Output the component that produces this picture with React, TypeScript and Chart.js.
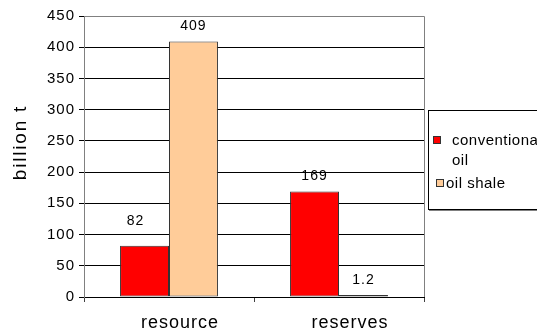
import { useEffect, useRef } from 'react';
import { Chart, registerables } from 'chart.js';

Chart.register(...registerables);

const categories = ['resource', 'reserves'];
const conventionalOil = [82, 169];
const oilShale = [409, 1.2];
const seriesNames = ['conventional oil', 'oil shale'];
const seriesColors = ['#FF0000', '#FFCC99'];
const yMax = 450;
const yStep = 50;
const axisTitle = 'billion t';

const FONT = '"Liberation Sans", Arial, Helvetica, sans-serif';

// Values written above each bar, plus a couple of small overlay pieces
// (plot frame, rotated axis title and a boxed legend that runs off the edge).
const decorPlugin = {
  id: 'decor',
  beforeDraw(chart: any) {
    chart.ctx.letterSpacing = '1px';
  },
  afterDatasetsDraw(chart: any, _args: any, opts: any) {
    const ctx = chart.ctx;
    ctx.save();
    ctx.letterSpacing = '1px';
    ctx.font = `14px ${FONT}`;
    ctx.fillStyle = '#000';
    ctx.textAlign = 'center';
    ctx.textBaseline = 'middle';
    chart.data.datasets.forEach((ds: any, di: number) => {
      const meta = chart.getDatasetMeta(di);
      meta.data.forEach((bar: any, i: number) => {
        const nudge = (opts.nudge && opts.nudge[`${di}-${i}`]) || [0, 0];
        ctx.fillText(String(ds.data[i]), bar.x + nudge[0], bar.y - opts.gap + nudge[1]);
      });
    });
    ctx.restore();
  },
  afterDraw(chart: any, _args: any, opts: any) {
    const ctx = chart.ctx;
    const { left, right, top } = chart.chartArea;
    const px = (v: number) => Math.round(v - 0.5) + 0.5;

    // plot frame: top and right edges
    ctx.save();
    ctx.strokeStyle = '#808080';
    ctx.lineWidth = 1;
    ctx.beginPath();
    ctx.moveTo(px(left), px(top));
    ctx.lineTo(px(right), px(top));
    ctx.lineTo(px(right), chart.chartArea.bottom);
    ctx.stroke();
    ctx.restore();

    // rotated y axis title
    ctx.save();
    ctx.letterSpacing = '1.8px';
    ctx.font = `19px ${FONT}`;
    ctx.fillStyle = '#000';
    ctx.textAlign = 'center';
    ctx.textBaseline = 'alphabetic';
    ctx.translate(26, (top + chart.chartArea.bottom) / 2 - 14);
    ctx.rotate(-Math.PI / 2);
    ctx.fillText(axisTitle, 0, 0);
    ctx.restore();

    // legend box
    const lg = opts.legend;
    ctx.save();
    ctx.fillStyle = '#fff';
    ctx.fillRect(lg.x, lg.y, lg.w, lg.h);
    ctx.strokeStyle = '#000';
    ctx.lineWidth = 1;
    ctx.strokeRect(lg.x + 0.5, lg.y + 0.5, lg.w, lg.h);
    ctx.strokeStyle = '#808080';
    ctx.beginPath();
    ctx.moveTo(lg.x + 1, lg.y + lg.h + 1.5);
    ctx.lineTo(lg.x + lg.w + 2, lg.y + lg.h + 1.5);
    ctx.stroke();

    ctx.font = `15px ${FONT}`;
    ctx.letterSpacing = '0.5px';
    ctx.textAlign = 'left';
    ctx.textBaseline = 'alphabetic';
    chart.data.datasets.forEach((ds: any, di: number) => {
      const item = lg.items[di];
      ctx.fillStyle = ds.backgroundColor;
      ctx.fillRect(item.markerX, item.markerY, 8, 8);
      ctx.strokeStyle = '#333';
      ctx.strokeRect(item.markerX + 0.5, item.markerY + 0.5, 7, 7);
      // simple word wrap inside the box width
      const words = String(ds.label).split(' ');
      const lines: string[] = [];
      let cur = '';
      words.forEach((w) => {
        const test = cur ? `${cur} ${w}` : w;
        if (cur && ctx.measureText(test).width > lg.textWidth) {
          lines.push(cur);
          cur = w;
        } else {
          cur = test;
        }
      });
      if (cur) lines.push(cur);
      ctx.fillStyle = '#000';
      lines.forEach((line, li) => {
        ctx.fillText(line, item.textX, item.baseline + li * lg.lineHeight);
      });
    });
    ctx.restore();
  },
};

export default function App() {
  const canvasRef = useRef<HTMLCanvasElement | null>(null);

  useEffect(() => {
    if (!canvasRef.current) return;
    const chart = new Chart(canvasRef.current, {
      type: 'bar',
      data: {
        labels: categories,
        datasets: [
          {
            label: seriesNames[0],
            data: conventionalOil,
            backgroundColor: seriesColors[0],
            borderColor: '#333333',
            borderWidth: 1,
            borderSkipped: false,
            minBarLength: 2,
          },
          {
            label: seriesNames[1],
            data: oilShale,
            backgroundColor: seriesColors[1],
            borderColor: '#333333',
            borderWidth: 1,
            borderSkipped: false,
            minBarLength: 2,
          },
        ],
      },
      options: {
        animation: false,
        responsive: false,
        maintainAspectRatio: false,
        devicePixelRatio: 1,
        layout: { padding: { top: 16, right: 113, left: 0, bottom: 0 } },
        datasets: {
          bar: { barPercentage: 1, categoryPercentage: 0.576 },
        },
        scales: {
          x: {
            afterFit: (scale: any) => {
              scale.height = 34;
            },
            grid: {
              display: true,
              drawOnChartArea: false,
              drawTicks: true,
              tickLength: 5,
              offset: true,
              tickColor: '#404040',
            },
            border: { display: true, color: '#000', width: 1 },
            ticks: {
              color: '#000',
              font: { family: FONT, size: 18 },
              padding: 10,
              labelOffset: 11,
              maxRotation: 0,
            },
          },
          y: {
            min: 0,
            max: yMax,
            afterFit: (scale: any) => {
              scale.width = 84;
            },
            grid: {
              color: (c: any) => (c.tick && c.tick.value === yMax ? '#808080' : '#000'),
              tickColor: '#000',
              tickLength: 5,
              drawTicks: true,
            },
            border: { display: true, color: '#808080', width: 1 },
            ticks: {
              stepSize: yStep,
              color: '#000',
              font: { family: FONT, size: 15 },
              padding: 4,
            },
          },
        },
        plugins: {
          legend: { display: false },
          tooltip: { enabled: false },
          decor: {
            gap: 15,
            nudge: { '0-0': [-9, -10] },
            legend: {
              x: 428,
              y: 110,
              w: 130,
              h: 99,
              textWidth: 95,
              lineHeight: 20,
              items: [
                { markerX: 433, markerY: 136, textX: 452, baseline: 145 },
                { markerX: 436, markerY: 179, textX: 446, baseline: 188 },
              ],
            },
          },
        } as any,
      },
      plugins: [decorPlugin],
    });
    return () => chart.destroy();
  }, []);

  return (
    <div style={{ position: 'fixed', left: 0, top: 0, width: 537, height: 331, background: '#fff' }}>
      <canvas ref={canvasRef} width={537} height={331} style={{ display: 'block', width: 537, height: 331 }} />
    </div>
  );
}
